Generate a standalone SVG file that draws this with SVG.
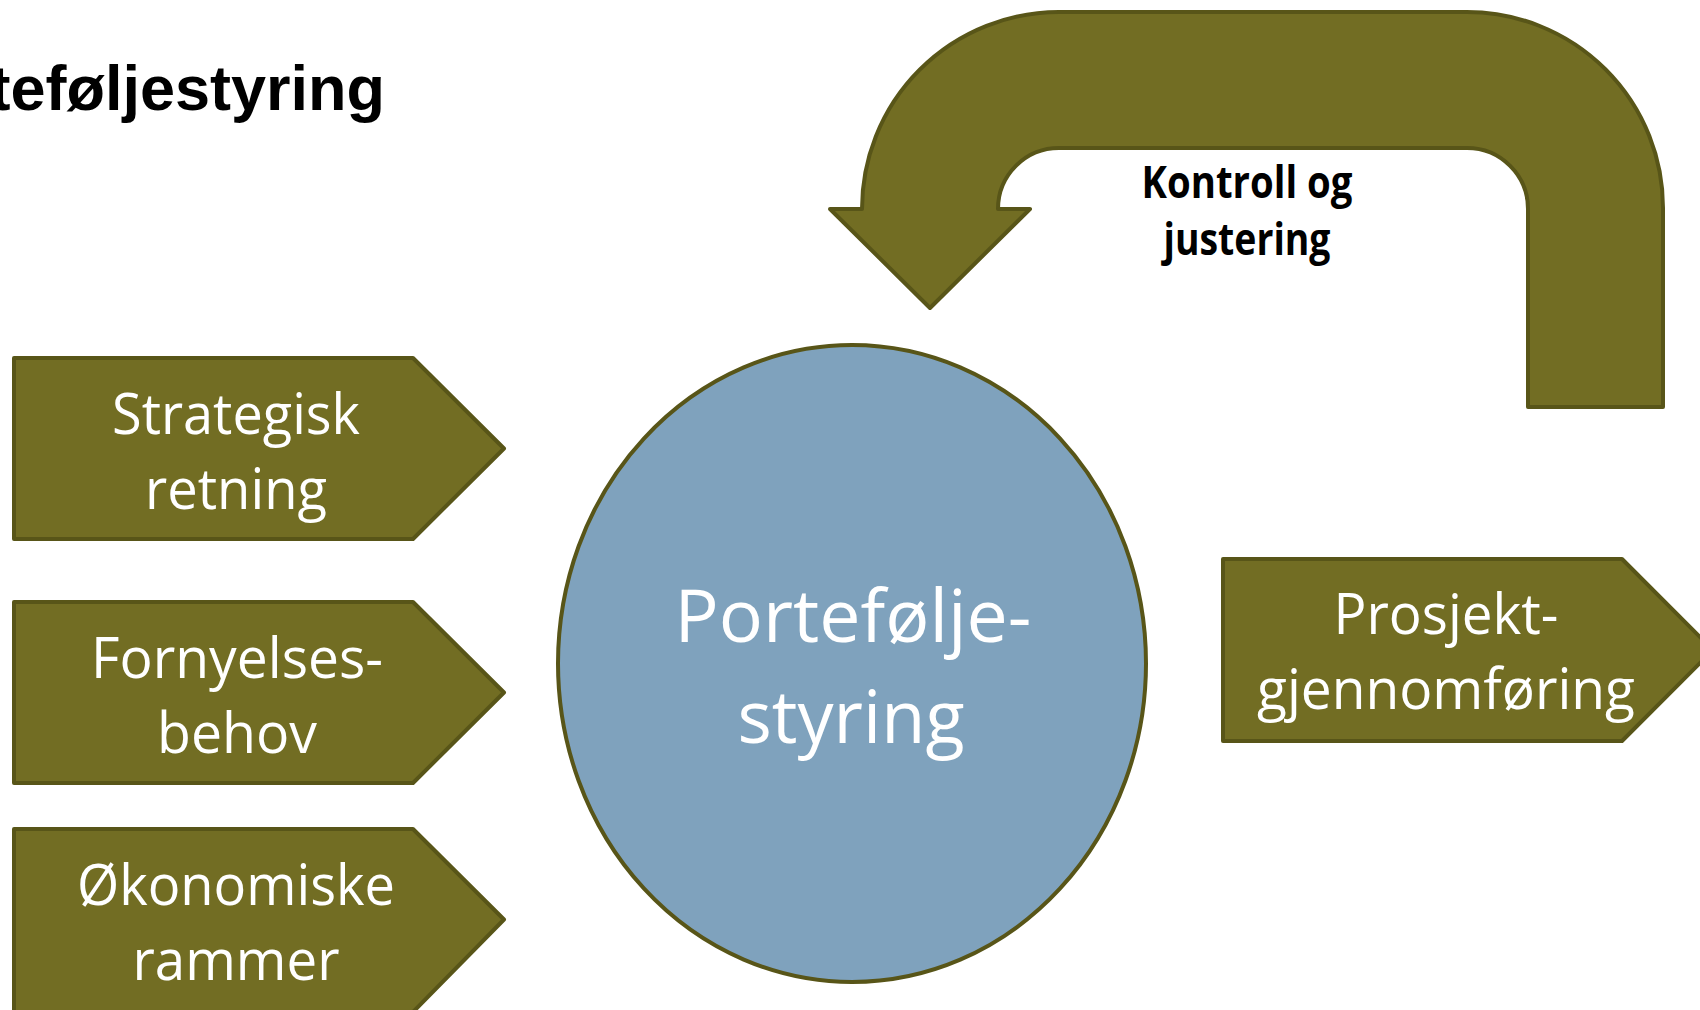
<svg xmlns="http://www.w3.org/2000/svg" width="1700" height="1010" viewBox="0 0 1700 1010">
<style>
.shape{fill:#726d23;stroke:#585518;stroke-width:4;stroke-linejoin:round}
.lbl{font-family:"Open Sans","Noto Sans",sans-serif;fill:#ffffff;text-anchor:middle}
.box{font-size:56px}
.big{font-size:73px}
.title{font-family:"Liberation Sans",Arial,sans-serif;font-weight:bold;font-size:63px;fill:#000}
.note{font-family:"Open Sans","Noto Sans",sans-serif;font-weight:bold;font-size:44px;fill:#000;text-anchor:middle}
</style>
<rect width="1700" height="1010" fill="#ffffff"/>
<text class="title" x="385" y="110" text-anchor="end">teføljestyring</text>
<g id="connectors">
<g id="feedback-arrow">
<path class="shape" d="M1663 407 L1663 208 A196 196 0 0 0 1467 12 L1059 12 A197 197 0 0 0 862 209 L830 209 L930 308 L1030 209 L998 209 A61 61 0 0 1 1059 148 L1467 148 A61 61 0 0 1 1528 209 L1528 407 Z"/>
<text class="note" x="1247" y="198" textLength="211" lengthAdjust="spacingAndGlyphs">Kontroll og</text>
<text class="note" x="1247" y="255" textLength="167" lengthAdjust="spacingAndGlyphs">justering</text>
</g>
</g>
<g id="node-strategisk">
<path class="shape" d="M14 358 L413 358 L504 448.5 L413 539 L14 539 Z"/>
<text class="lbl box" x="236" y="434" textLength="248" lengthAdjust="spacingAndGlyphs">Strategisk</text>
<text class="lbl box" x="236" y="509" textLength="182" lengthAdjust="spacingAndGlyphs">retning</text>
</g>
<g id="node-fornyelse">
<path class="shape" d="M14 602 L413 602 L504 692.5 L413 783 L14 783 Z"/>
<text class="lbl box" x="237" y="678" textLength="292" lengthAdjust="spacingAndGlyphs">Fornyelses-</text>
<text class="lbl box" x="237" y="753" textLength="160" lengthAdjust="spacingAndGlyphs">behov</text>
</g>
<g id="node-okonomi">
<path class="shape" d="M14 829 L413 829 L504 919.5 L413 1012 L14 1012 Z"/>
<text class="lbl box" x="236" y="905" textLength="318" lengthAdjust="spacingAndGlyphs">Økonomiske</text>
<text class="lbl box" x="236" y="980" textLength="207" lengthAdjust="spacingAndGlyphs">rammer</text>
</g>
<g id="node-portefolje">
<ellipse cx="852" cy="663.5" rx="294" ry="318.5" fill="#7fa2bd" stroke="#585518" stroke-width="4"/>
<text class="lbl big" x="853" y="642" textLength="357" lengthAdjust="spacingAndGlyphs">Portefølje-</text>
<text class="lbl big" x="851" y="743" textLength="227" lengthAdjust="spacingAndGlyphs">styring</text>
</g>
<g id="node-prosjekt">
<path class="shape" d="M1223 559 L1622 559 L1713 650 L1622 741 L1223 741 Z"/>
<text class="lbl box" x="1446" y="634" textLength="225" lengthAdjust="spacingAndGlyphs">Prosjekt-</text>
<text class="lbl box" x="1446" y="709" textLength="378" lengthAdjust="spacingAndGlyphs">gjennomføring</text>
</g>
</svg>
